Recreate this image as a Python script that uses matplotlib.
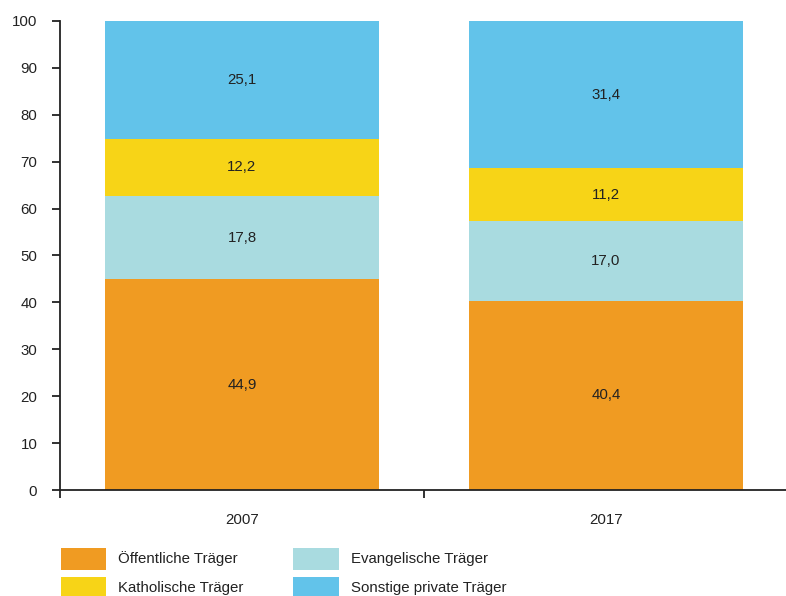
import matplotlib.pyplot as plt
from matplotlib.patches import Patch

plt.rcParams['font.family'] = ['Liberation Sans', 'DejaVu Sans']

years = ['2007', '2017']
labels = ['Öffentliche Träger', 'Evangelische Träger', 'Katholische Träger', 'Sonstige private Träger']
oeffentlich = [44.9, 40.4]
evangelisch = [17.8, 17.0]
katholisch = [12.2, 11.2]
sonstige = [25.1, 31.4]
colors = ['#F09B22', '#A9DBE0', '#F7D417', '#62C3EA']

series = [oeffentlich, evangelisch, katholisch, sonstige]
fs = 10.8

fig = plt.figure(figsize=(7.86, 5.96), dpi=100)
ax = fig.add_axes([60/786, 1-490/596, 728/786, 469/596])

x = range(len(years))
bottom = [0, 0]
for vals, col in zip(series, colors):
    ax.bar(x, vals, 0.753, bottom=bottom, color=col, linewidth=0)
    for i, v in enumerate(vals):
        ax.text(i, bottom[i] + v/2, f'{v:.1f}'.replace('.', ','), ha='center', va='center',
                fontsize=fs, color='#222222')
    bottom = [b + v for b, v in zip(bottom, vals)]

ax.set_xlim(-0.5, 1.5)
ax.set_ylim(0, 100)
ax.set_yticks(range(0, 101, 10))
ax.set_xticks([0, 1])
ax.set_xticklabels(years)
ax.set_xticks([-0.5, 0.5], minor=True)
for s in ['top', 'right']:
    ax.spines[s].set_visible(False)
for s in ['left', 'bottom']:
    ax.spines[s].set_color('#222222')
    ax.spines[s].set_linewidth(1.3)
ax.tick_params(axis='y', direction='out', length=6, width=1.3, pad=10.3, labelsize=fs,
               colors='#222222')
ax.tick_params(axis='x', which='major', length=0, pad=16.5, labelsize=fs, colors='#222222')
ax.tick_params(axis='x', which='minor', direction='out', length=5.5, width=1.3, color='#222222')

order = [0, 2, 1, 3]
handles = [Patch(facecolor=colors[i], edgecolor='none', label=labels[i]) for i in order]
fig.legend(handles=handles, ncol=2, loc='upper left', bbox_to_anchor=(47/786, 1-534/596),
           frameon=False, fontsize=fs, handlelength=3.06, handleheight=1.89,
           handletextpad=0.78, columnspacing=3.3, labelspacing=0.46, labelcolor='#222222')

fig.savefig('out.png', dpi=100)
